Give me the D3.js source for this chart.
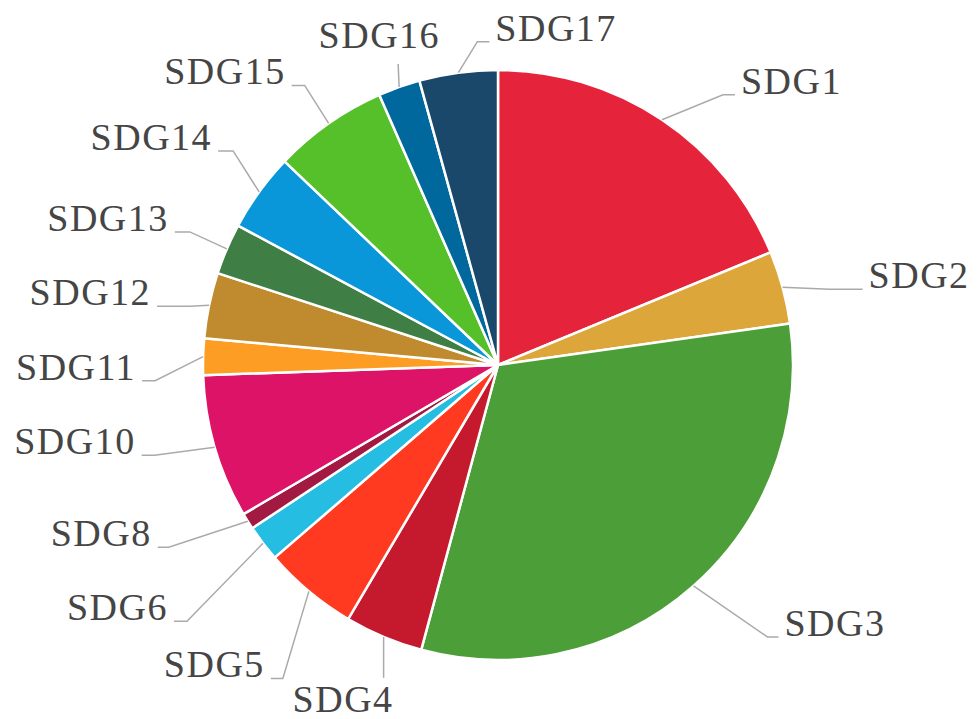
<!DOCTYPE html>
<html>
<head>
<meta charset="utf-8">
<script src="https://cdn.jsdelivr.net/npm/d3@7"></script>
<style>
  html, body { margin: 0; padding: 0; background: #fff; }
  svg { display: block; }
  .lbl { font-family: "Liberation Serif", "Times New Roman", serif; font-size: 38px; fill: #454545; letter-spacing: 1.5px; }
</style>
</head>
<body>
<svg id="chart" width="977" height="719"></svg>
<script>
// Share of items per Sustainable Development Goal (percent)
const categories = ["SDG1", "SDG2", "SDG3", "SDG4", "SDG5", "SDG6", "SDG8", "SDG10",
                    "SDG11", "SDG12", "SDG13", "SDG14", "SDG15", "SDG16", "SDG17"];
const shares = [18.8, 4.0, 31.5, 4.3, 5.2, 2.0, 0.9, 7.9, 2.0, 3.6, 2.8, 4.3, 6.3, 2.3, 4.3];

// Official SDG palette
const colors = ["#E5243B", "#DDA63A", "#4C9F38", "#C5192D", "#FF3A21", "#26BDE2", "#A21942", "#DD1367",
                "#FD9D24", "#BF8B2E", "#3F7E44", "#0A97D9", "#56C02B", "#00689D", "#19486A"];

// Leader-line layout: bend offset from the slice edge, horizontal run, optional text offset
const leader = {
  SDG1:  { bend: [61, -25], run: 12 },
  SDG2:  { bend: [47, 2],   run: 33 },
  SDG3:  { bend: [74, 51],  run: 11 },
  SDG4:  { bend: [0, 41],   run: 0, text: [10, 34], anchor: "end" },
  SDG5:  { bend: [-26, 87], run: -12 },
  SDG6:  { bend: [-76, 78], run: -13 },
  SDG8:  { bend: [-79, 26], run: -11 },
  SDG10: { bend: [-60, 8],  run: -13 },
  SDG11: { bend: [-48, 24], run: -13 },
  SDG12: { bend: [-19, 1],  run: -33 },
  SDG13: { bend: [-37, -17], run: -15 },
  SDG14: { bend: [-26, -41], run: -15 },
  SDG15: { bend: [-24, -38], run: -13 },
  SDG16: { bend: [-1, -23], run: 0, text: [42, -16], anchor: "end" },
  SDG17: { bend: [19, -31], run: 12 }
};

const data = categories.map((c, i) => ({ name: c, value: shares[i], color: colors[i] }));

const svg = d3.select("#chart");
const cx = 498, cy = 365, radius = 295;

const pie = d3.pie().sort(null).value(d => d.value);
const arc = d3.arc().innerRadius(0).outerRadius(radius);
const arcs = pie(data);

const g = svg.append("g").attr("transform", `translate(${cx},${cy})`);

// Leader lines and labels
const lines = svg.append("g");
const labels = svg.append("g");

arcs.forEach(a => {
  const mid = (a.startAngle + a.endAngle) / 2;
  const ex = cx + radius * Math.sin(mid);
  const ey = cy - radius * Math.cos(mid);
  const L = leader[a.data.name];
  const bx = ex + L.bend[0], by = ey + L.bend[1];
  const endX = bx + L.run;
  lines.append("polyline")
    .attr("points", [[ex, ey], [bx, by], [endX, by]].map(p => p.join(",")).join(" "))
    .attr("fill", "none")
    .attr("stroke", "#aaaaaa")
    .attr("stroke-width", 1.5);

  let tx, ty, anchor;
  if (L.text) {
    tx = bx + L.text[0]; ty = by + L.text[1]; anchor = L.anchor;
  } else {
    const right = L.run >= 0;
    tx = endX + (right ? 6 : -6);
    ty = by - 1;
    anchor = right ? "start" : "end";
  }
  labels.append("text")
    .attr("class", "lbl")
    .attr("x", tx)
    .attr("y", ty)
    .attr("text-anchor", anchor)
    .text(a.data.name);
});

// Slices
g.selectAll("path")
  .data(arcs)
  .join("path")
  .attr("d", arc)
  .attr("fill", d => d.data.color)
  .attr("stroke", "#ffffff")
  .attr("stroke-width", 2.5)
  .attr("stroke-linejoin", "round");
</script>
</body>
</html>
